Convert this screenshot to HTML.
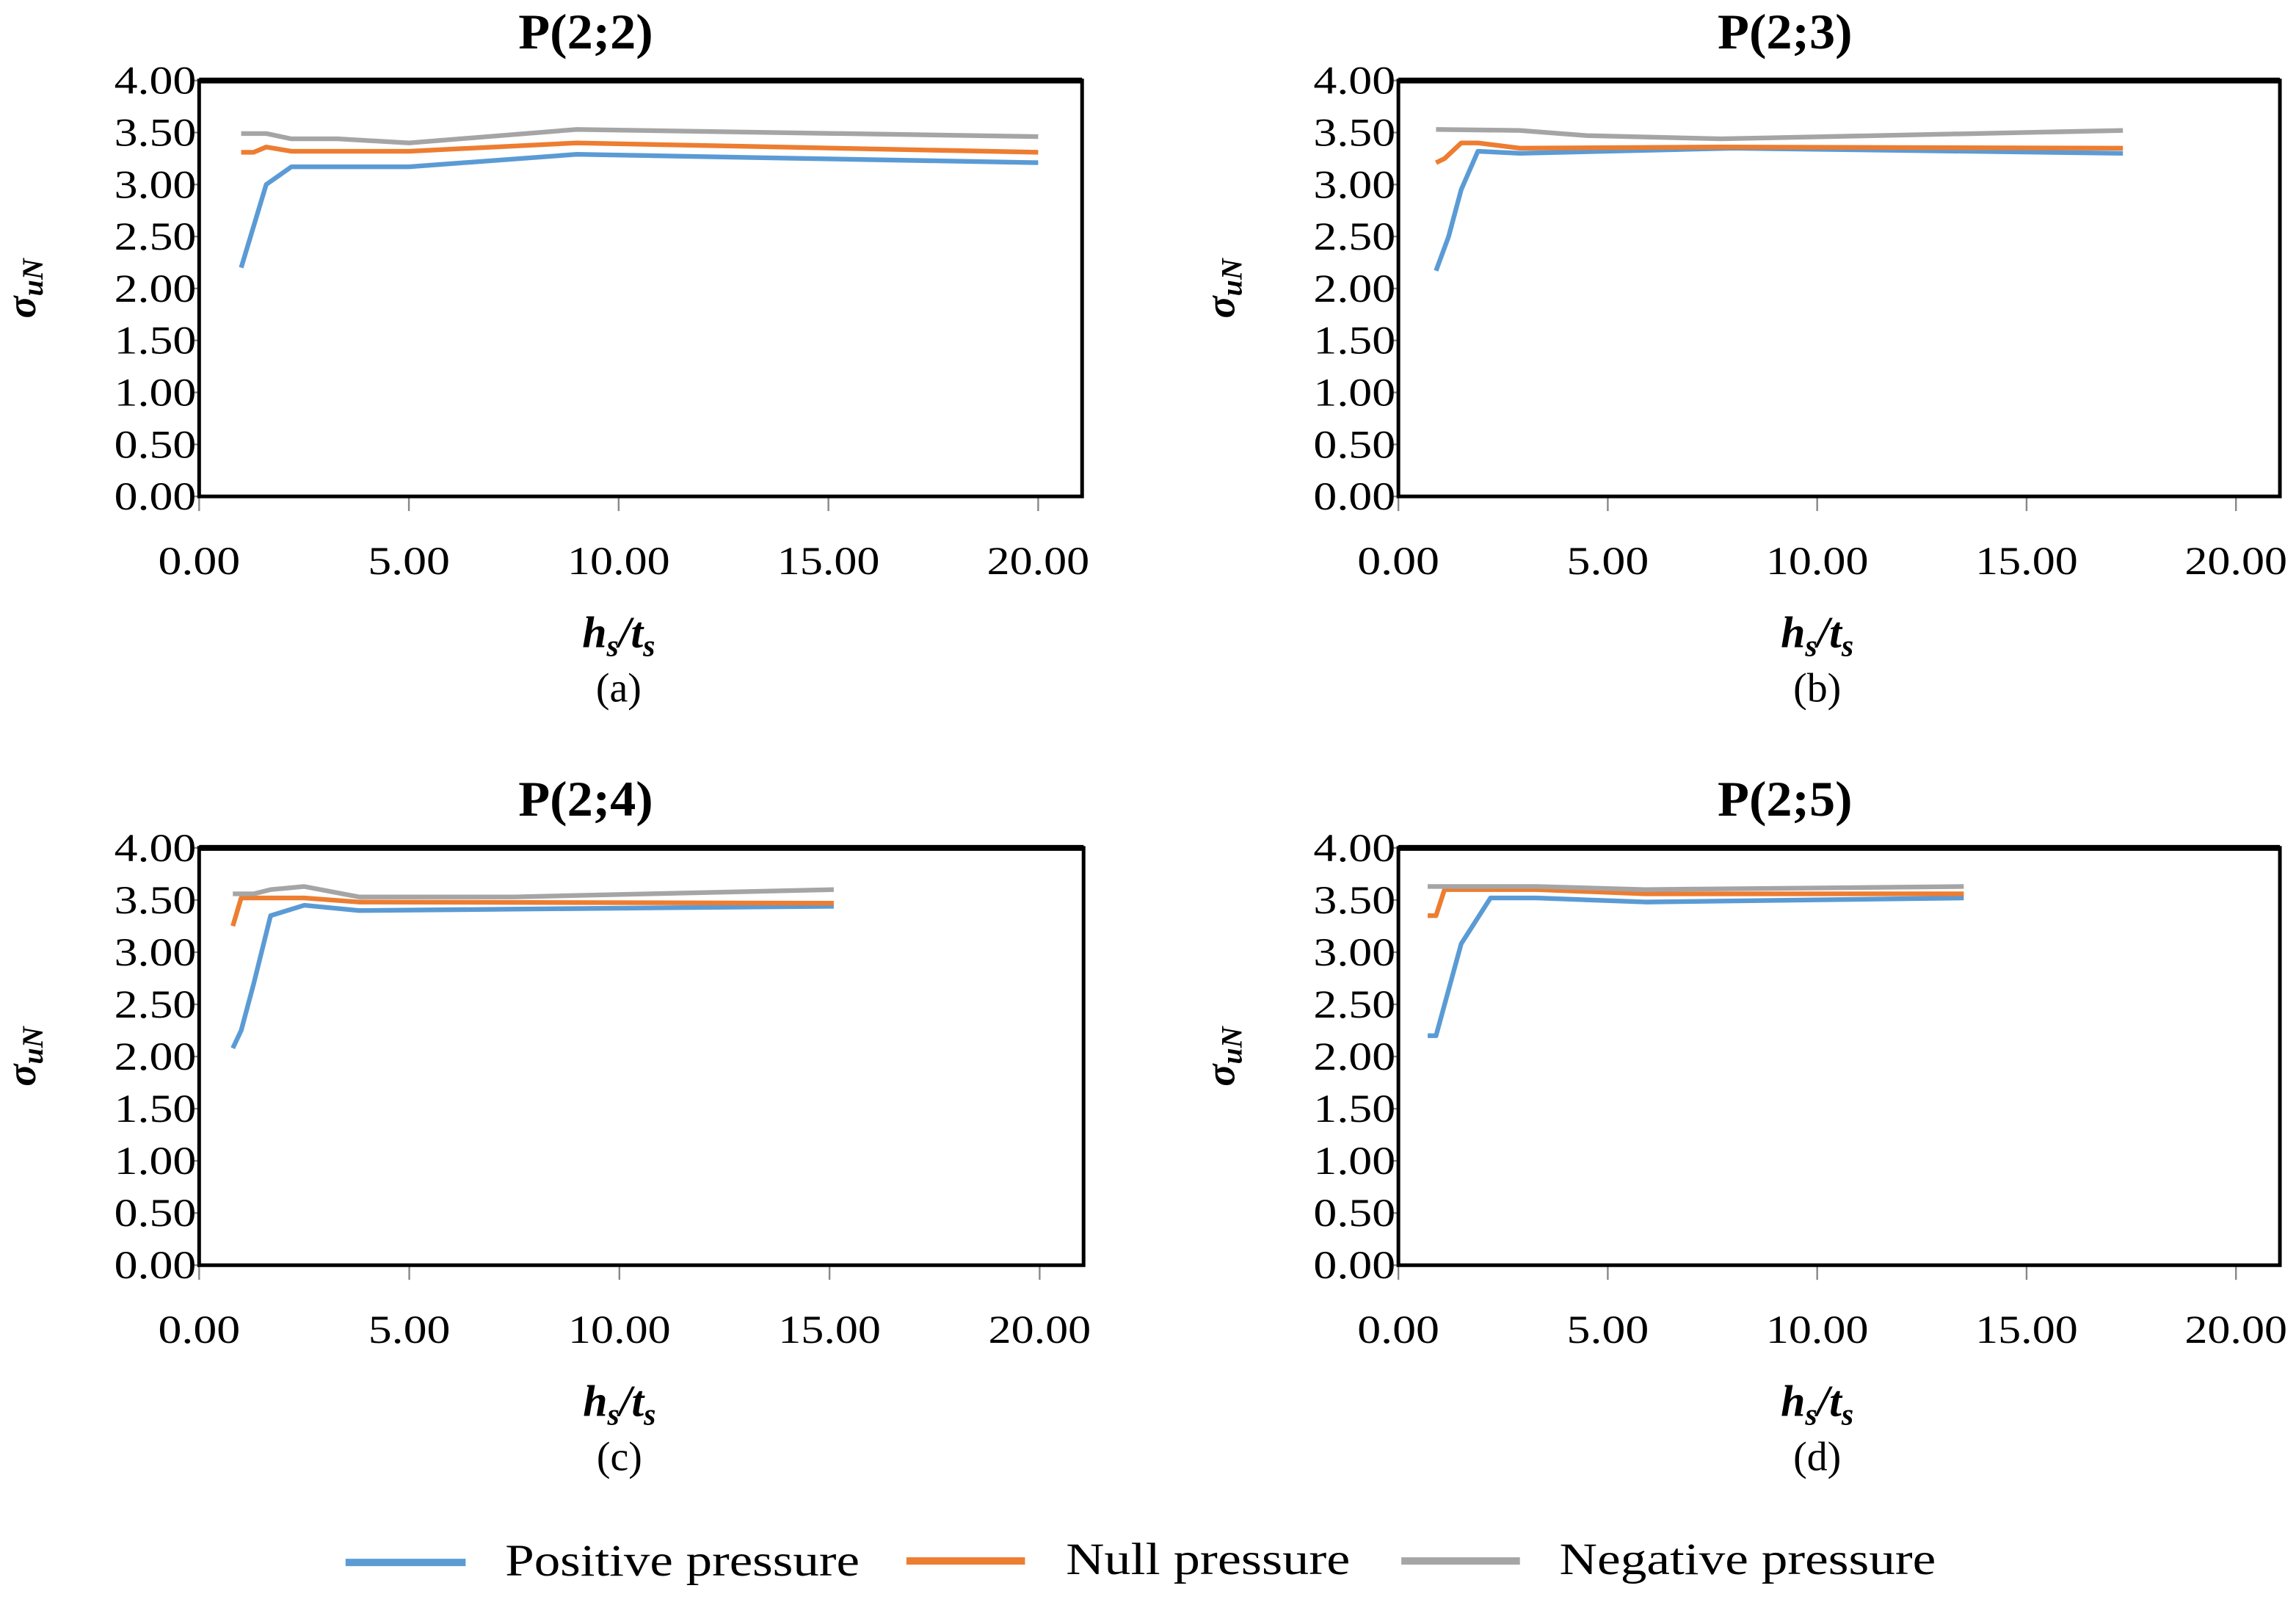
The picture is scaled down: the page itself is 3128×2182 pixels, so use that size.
<!DOCTYPE html>
<html><head><meta charset="utf-8"><style>
html,body{margin:0;padding:0;background:#fff}
svg{display:block}
text{font-family:"Liberation Serif",serif;fill:#000}
</style></head><body>
<svg id="fig" width="3128" height="2182" viewBox="0 0 1568 1094" preserveAspectRatio="none" xmlns="http://www.w3.org/2000/svg">
<g id="legend">
  <line x1="236" y1="1067" x2="318" y2="1067" stroke="#5B9BD5" stroke-width="5"/>
  <text x="345" y="1076" font-size="31" textLength="242" lengthAdjust="spacingAndGlyphs">Positive pressure</text>
  <line x1="619" y1="1066" x2="700" y2="1066" stroke="#ED7D31" stroke-width="5"/>
  <text x="728" y="1075" font-size="31" textLength="194" lengthAdjust="spacingAndGlyphs">Null pressure</text>
  <line x1="957" y1="1066" x2="1038" y2="1066" stroke="#A5A5A5" stroke-width="5"/>
  <text x="1065" y="1075" font-size="31" textLength="257" lengthAdjust="spacingAndGlyphs">Negative pressure</text>
</g>
</svg>
<script>
const panelTitles = ["P(2;2)","P(2;3)","P(2;4)","P(2;5)"];
const panelLetters = ["(a)","(b)","(c)","(d)"];
const yTicks = [0,0.5,1,1.5,2,2.5,3,3.5,4];
const xTicks = [0,5,10,15,20];
const seriesNames = ["positive","null","negative"];
const seriesColors = ["#5B9BD5","#ED7D31","#A5A5A5"];
// panel a
const aPosX=[1.0,1.6,2.2,5.0,9.0,20.0], aPosY=[2.20,3.00,3.17,3.17,3.29,3.21];
const aNulX=[1.0,1.3,1.6,2.2,5.0,9.0,20.0], aNulY=[3.31,3.31,3.36,3.32,3.32,3.40,3.31];
const aNegX=[1.0,1.6,2.2,3.3,5.0,9.0,20.0], aNegY=[3.49,3.49,3.44,3.44,3.40,3.53,3.46];
// panel b
const bPosX=[0.9,1.2,1.5,1.9,2.9,8.0,17.3], bPosY=[2.17,2.50,2.95,3.32,3.30,3.35,3.30];
const bNulX=[0.9,1.1,1.5,1.9,2.9,7.7,17.3], bNulY=[3.21,3.25,3.40,3.40,3.35,3.36,3.35];
const bNegX=[0.9,2.9,4.5,7.7,17.3], bNegY=[3.53,3.52,3.47,3.44,3.52];
// panel c
const cPosX=[0.8,1.0,1.3,1.7,2.5,3.8,15.1], cPosY=[2.08,2.25,2.70,3.35,3.45,3.40,3.44];
const cNulX=[0.8,1.0,1.7,2.5,3.8,15.1], cNulY=[3.25,3.52,3.52,3.52,3.48,3.47];
const cNegX=[0.8,1.3,1.7,2.5,3.8,7.5,15.1], cNegY=[3.56,3.56,3.60,3.63,3.53,3.53,3.60];
// panel d
const dPosX=[0.7,0.9,1.5,2.2,3.3,5.9,13.5], dPosY=[2.20,2.20,3.08,3.52,3.52,3.48,3.52];
const dNulX=[0.7,0.9,1.1,3.3,5.9,13.5], dNulY=[3.35,3.35,3.60,3.60,3.56,3.56];
const dNegX=[0.7,3.3,5.9,13.5], dNegY=[3.63,3.63,3.60,3.63];

const panelData = [
 [[aPosX,aPosY],[aNulX,aNulY],[aNegX,aNegY]],
 [[bPosX,bPosY],[bNulX,bNulY],[bNegX,bNegY]],
 [[cPosX,cPosY],[cNulX,cNulY],[cNegX,cNegY]],
 [[dPosX,dPosY],[dNulX,dNulY],[dNegX,dNegY]]
];
const layouts = [
 {l:136,t:55,r:739,b:339,x20:709},
 {l:955,t:55,r:1557,b:339,x20:1527},
 {l:136,t:579,r:740,b:864,x20:710},
 {l:955,t:579,r:1557,b:864,x20:1527}
];
const NS="http://www.w3.org/2000/svg";
const svg=document.getElementById('fig');
function mk(tag,attrs,parent,txt){const e=document.createElementNS(NS,tag);for(const k in attrs)e.setAttribute(k,attrs[k]);if(txt!==undefined)e.textContent=txt;parent.appendChild(e);return e;}
layouts.forEach((L,i)=>{
  const g=mk('g',{},svg);
  
  
  const xs=v=>L.l+(v/20)*(L.x20-L.l);
  const ys=v=>L.b-(v/4)*(L.b-L.t);
  const t=mk('text',{x:L.l+264,y:L.t-22,'font-size':34,'font-weight':'bold','text-anchor':'middle',textLength:92,lengthAdjust:'spacingAndGlyphs'},g,panelTitles[i]);
  
  
  yTicks.forEach(v=>{
    const y=ys(v);
    const tk=mk('line',{x1:L.l-6,x2:L.l,y1:y,y2:y,stroke:'#888','stroke-width':1.2},g);
    
    
    const lb=mk('text',{x:L.l-30,y:y+9,'font-size':27,'text-anchor':'middle',textLength:56,lengthAdjust:'spacingAndGlyphs'},g,v.toFixed(2));
    
    
  });
  xTicks.forEach(v=>{
    const x=xs(v);
    const tk=mk('line',{x1:x,x2:x,y1:L.b,y2:L.b+10,stroke:'#888','stroke-width':1.2},g);
    
    
    const s=v.toFixed(2);
    const lb=mk('text',{x:x,y:L.b+53,'font-size':27,'text-anchor':'middle',textLength:s.length>4?70:56,lengthAdjust:'spacingAndGlyphs'},g,s);
    
    
  });
  const box=mk('rect',{x:L.l,y:L.t,width:L.r-L.l,height:L.b-L.t,fill:'none',stroke:'#000','stroke-width':2.5},g);
  
  
  const top=mk('line',{x1:L.l,x2:L.r,y1:L.t,y2:L.t,stroke:'#000','stroke-width':4},g);
  
  
  panelData[i].forEach((s,k)=>{
    const pts=s[0].map((xv,j)=>xs(xv).toFixed(1)+','+ys(s[1][j]).toFixed(1)).join(' ');
    const pl=mk('polyline',{points:pts,fill:'none',stroke:seriesColors[k],'stroke-width':3.2,'stroke-linejoin':'round'},g);
    
    
  });
  const yt=mk('text',{transform:`translate(${L.l-112},${(L.t+L.b)/2}) rotate(-90)`,'font-size':28,'font-weight':'bold','font-style':'italic','text-anchor':'middle'},g);
  
  
  yt.innerHTML='σ<tspan font-size="20" dy="5">uN</tspan>';
  const xt=mk('text',{x:L.l+(L.x20-L.l)/2,y:L.b+103,'font-size':30,'font-weight':'bold','font-style':'italic','text-anchor':'middle'},g);
  
  
  xt.innerHTML='h<tspan font-size="21" dy="6">s</tspan><tspan dy="-6">/t</tspan><tspan font-size="21" dy="6">s</tspan>';
  const lt=mk('text',{x:L.l+(L.x20-L.l)/2,y:L.b+140,'font-size':28,'text-anchor':'middle'},g,panelLetters[i]);
  
  
});
</script>
</body></html>
